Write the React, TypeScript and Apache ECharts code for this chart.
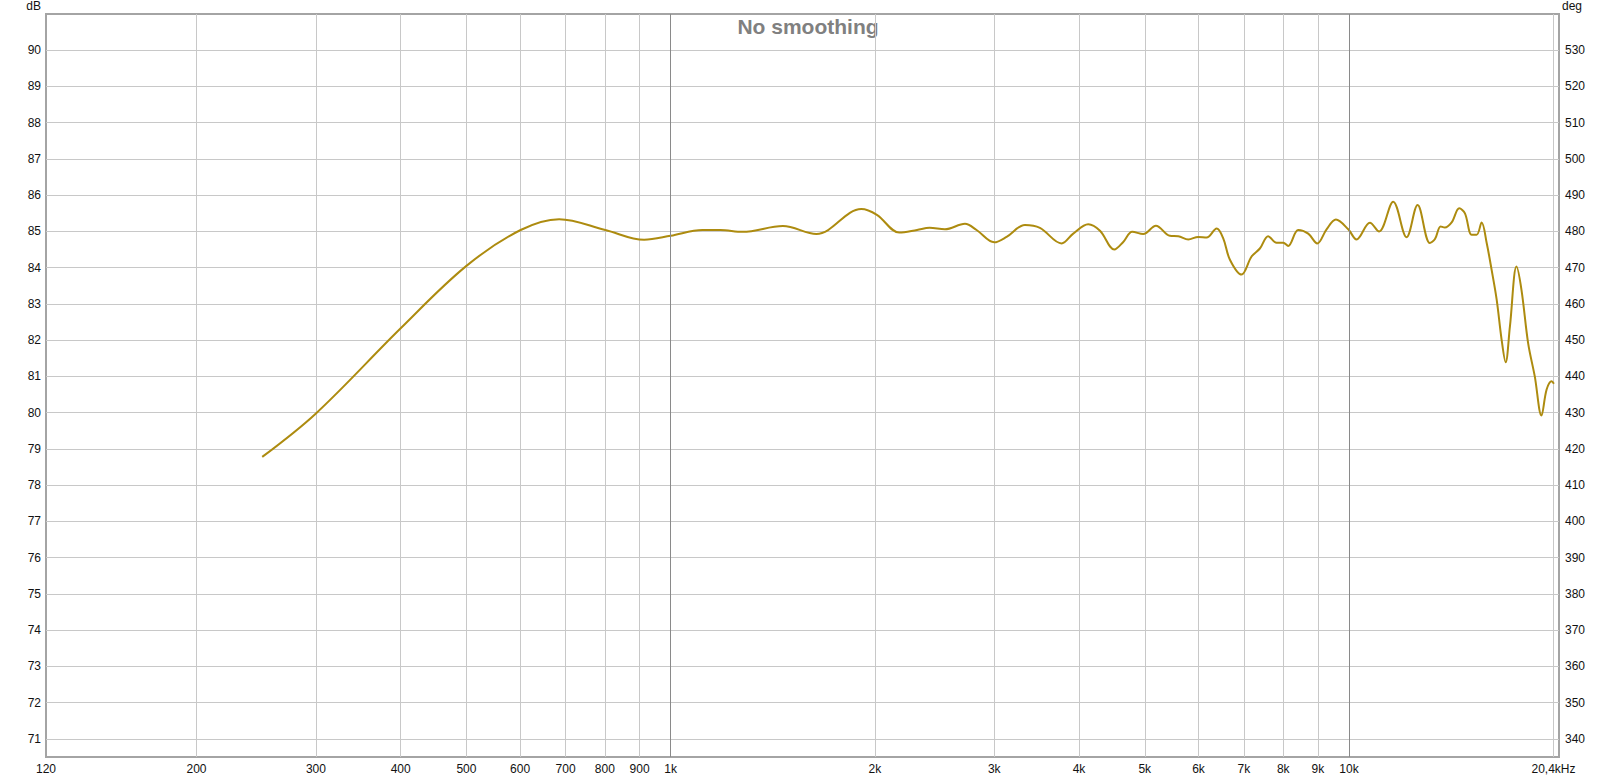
import React, { useEffect, useRef } from "react";
import * as echarts from "echarts";

// Frequency response (Hz, dB)
const freqHz = [
  250, 300, 400, 500, 601, 685, 801, 914,
  1000, 1114, 1184, 1277, 1464, 1640, 1910, 2014, 2173, 2308, 2409, 2537, 2716, 2825,
  3000, 3128, 3329, 3503, 3770, 3922, 4127, 4295, 4509, 4648, 4792, 4974, 5193, 5446,
  5602, 5796, 5995, 6168, 6382, 6526, 6676, 6944, 7185, 7390, 7602, 7821, 8000, 8135,
  8418, 8708, 8979, 9268, 9567, 9975, 10260, 10736, 11076, 11619, 12160, 12624, 13160,
  13390, 13650, 13845, 14170, 14540, 14825, 15165, 15425, 15690, 15960, 16230, 16510,
  16790, 17020, 17270, 17660, 17960, 18370, 18790, 19220, 19560, 19900, 20050,
];
const splDb = [
  78.78, 79.98, 82.33, 84.05, 85.04, 85.34, 85.04, 84.77,
  84.88, 85.04, 85.04, 84.99, 85.15, 84.93, 85.62, 85.46, 84.97, 85.04, 85.1, 85.06, 85.21, 85.04,
  84.7, 84.85, 85.18, 85.1, 84.67, 84.94, 85.2, 85.02, 84.5, 84.71, 84.99, 84.93, 85.16, 84.88,
  84.87, 84.78, 84.85, 84.83, 85.08, 84.81, 84.22, 83.81, 84.31, 84.53, 84.87, 84.69, 84.69, 84.6,
  85.04, 84.94, 84.67, 85.06, 85.33, 85.06, 84.78, 85.24, 85.0, 85.82, 84.84, 85.73, 84.68,
  84.79, 85.14, 85.11, 85.25, 85.64, 85.5, 84.91, 84.91, 85.25, 84.68, 83.94, 83.12,
  82.01, 81.39, 82.38, 84.03, 83.39, 81.92, 81.0, 79.92, 80.64, 80.87, 80.8,
];

const xGridHz = [200, 300, 400, 500, 600, 700, 800, 900, 1000, 2000, 3000, 4000, 5000, 6000, 7000, 8000, 9000, 10000, 20000];
const xLabelHz = [120, 200, 300, 400, 500, 600, 700, 800, 900, 1000, 2000, 3000, 4000, 5000, 6000, 7000, 8000, 9000, 10000, 20400];
const decadeHz = [1000, 10000];
const dbTicks = [71, 72, 73, 74, 75, 76, 77, 78, 79, 80, 81, 82, 83, 84, 85, 86, 87, 88, 89, 90];
const degTicks = [340, 350, 360, 370, 380, 390, 400, 410, 420, 430, 440, 450, 460, 470, 480, 490, 500, 510, 520, 530];

const FONT = '"Liberation Sans", Arial, sans-serif';

export default function App() {
  const ref = useRef<HTMLDivElement>(null);

  useEffect(() => {
    if (!ref.current) return;
    const chart = echarts.init(ref.current, undefined, { renderer: "svg" });
    const fmtX = (v: number) => {
      const r = Math.round(v);
      if (r === 20400) return "{end|20,4kHz}";
      if (r < 1000) return String(r);
      return Math.round(r / 1000) + "k";
    };
    chart.setOption({
      animation: false,
      backgroundColor: "#ffffff",
      textStyle: { fontFamily: FONT },
      grid: {
        left: 46,
        right: 58,
        top: 14,
        bottom: 21,
        show: true,
        borderColor: "#a4a4a4",
        borderWidth: 2,
        backgroundColor: "#ffffff",
      },
      graphic: [
        {
          type: "text",
          x: 808,
          y: 26,
          style: { text: "No smoothing", fill: "#808080", font: `bold 21px ${FONT}`, align: "center", verticalAlign: "middle" },
        },
        {
          type: "text",
          x: 41,
          y: 6,
          style: { text: "dB", fill: "#111", font: `12px ${FONT}`, align: "right", verticalAlign: "middle" },
        },
        {
          type: "text",
          x: 1562,
          y: 6,
          style: { text: "deg", fill: "#111", font: `12px ${FONT}`, align: "left", verticalAlign: "middle" },
        },
      ],
      xAxis: {
        type: "log",
        logBase: 10,
        min: 120,
        max: 20400,
        axisLine: { show: false },
        axisTick: { show: false, customValues: xGridHz },
        splitLine: { show: true, lineStyle: { color: "#c8c8c8", width: 1 } },
        axisLabel: {
          customValues: xLabelHz,
          formatter: fmtX,
          color: "#111",
          fontSize: 12,
          fontFamily: FONT,
          margin: 6,
          rich: { end: { fontSize: 12, fontFamily: FONT, color: "#111", padding: [0, 11, 0, 0] } },
        },
      },
      yAxis: [
        {
          type: "value",
          min: 70.5,
          max: 91,
          position: "left",
          axisLine: { show: false },
          axisTick: { show: false, customValues: dbTicks },
          splitLine: { show: true, lineStyle: { color: "#c8c8c8", width: 1 } },
          axisLabel: { customValues: dbTicks, color: "#111", fontSize: 12, fontFamily: FONT, margin: 5 },
        },
        {
          type: "value",
          min: 335,
          max: 540,
          position: "right",
          axisLine: { show: false },
          axisTick: { show: false, customValues: degTicks },
          splitLine: { show: false },
          axisLabel: { customValues: degTicks, color: "#111", fontSize: 12, fontFamily: FONT, margin: 6 },
        },
      ],
      series: [
        {
          type: "line",
          xAxisIndex: 0,
          yAxisIndex: 0,
          data: freqHz.map((f, i) => [f, splDb[i]]),
          showSymbol: false,
          smooth: 0.35,
          lineStyle: { color: "#ad8b0f", width: 2 },
          itemStyle: { color: "#ad8b0f" },
          markLine: {
            silent: true,
            symbol: "none",
            label: { show: false },
            lineStyle: { color: "#8a8a8a", width: 1, type: "solid" },
            data: decadeHz.map((v) => ({ xAxis: v })),
          },
          z: 3,
        },
      ],
    });
    return () => chart.dispose();
  }, []);

  return (
    <div
      ref={ref}
      style={{ position: "fixed", left: 0, top: 0, width: 1617, height: 778, background: "#fff" }}
    />
  );
}
